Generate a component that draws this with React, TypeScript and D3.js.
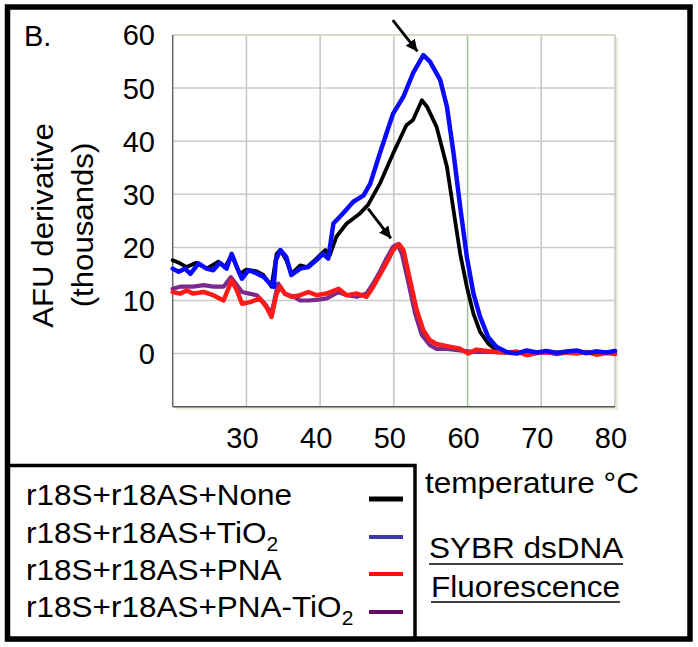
import React from "react";
import * as d3 from "d3";

const X_TICKS = [30, 40, 50, 60, 70, 80];
const Y_TICKS = [0, 10, 20, 30, 40, 50, 60];
const X_GRID = [20, 30, 40, 50, 60, 70, 80];
const Y_GRID = [-10, 0, 10, 20, 30, 40, 50, 60];

const NONE: [number, number][] = [[20,17.6],[21,17.0],[21.9,16.3],[23.2,17.1],[24.6,16.0],[26.2,17.3],[27.1,16.3],[28,18.5],[29.1,15.0],[30,15.8],[31.4,15.5],[32.3,14.8],[33.4,12.6],[34.1,18.8],[34.6,19.5],[35.4,17.6],[36.1,15.0],[37.3,16.6],[38.2,16.3],[39.5,17.9],[40.7,19.5],[41.3,18.5],[42.2,22],[43.6,24.5],[45.4,26.4],[46.5,28],[48.1,32],[49.9,37.7],[51.7,43],[52.6,44],[53.8,47.7],[54.5,46.5],[55.8,42.7],[57.2,35.2],[58.3,25.1],[59,18.8],[59.9,12.6],[60.8,7.5],[61.7,4.1],[62.8,1.9],[63.9,0.6],[65.3,0.3],[66.7,0.1],[68,0.5],[69.4,0.2],[70.7,0.4],[72.1,0.1],[73.4,0.3],[74.8,0.5],[76.1,0.2],[77.5,0.4],[78.9,0.2],[80,0.4]];
const TIO2: [number, number][] = [[20,16],[20.8,15.4],[21.7,16.0],[22.4,15.0],[23.5,17.0],[24.6,16.0],[25.5,15.7],[26.4,17.1],[27.3,16.0],[28,18.8],[28.7,16.3],[29.4,14.1],[30.3,15.7],[31.4,15.1],[32.3,14.5],[33.2,13.2],[33.7,12.6],[34,17.6],[34.6,19.5],[35.4,18.2],[36.1,14.8],[37.3,16.0],[38.4,16.3],[39.5,17.6],[40.4,18.8],[41.1,17.9],[41.8,24.5],[42.9,26.1],[44.5,28.6],[45.9,29.8],[46.8,32],[48.1,37.7],[49,41.5],[49.9,45.2],[51.3,48.4],[52.6,52.8],[54,56.2],[54.9,55],[56.3,51.5],[57.2,46.5],[58.1,37.7],[59,27.6],[59.9,18.2],[60.8,11.3],[61.7,6.9],[62.8,3.1],[63.9,1.3],[65.3,0.3],[66.7,0],[68,0.6],[69.4,0.2],[70.7,0.5],[72.1,0.1],[73.4,0.4],[74.8,0.6],[76.1,0.1],[77.5,0.4],[78.9,0.2],[80,0.5]];
const PNA: [number, number][] = [[20,11.6],[21,11.3],[21.9,11.9],[22.8,11.3],[24.2,11.6],[25.5,11],[26.9,10],[28,13.8],[28.7,11.9],[29.4,9.4],[30.5,9.7],[31.8,10.4],[32.7,8.8],[33.4,6.9],[34.1,11.3],[34.6,12.6],[35.2,11.3],[36.1,10.7],[37.3,11.0],[38.4,11.6],[39.5,11.0],[40.9,11.3],[42.5,12.2],[43.6,11.0],[45,11.3],[46.3,10.7],[47.2,12.6],[48.1,14.8],[49.2,17.6],[49.9,19.5],[50.7,20.6],[51.3,19.5],[52.2,13.8],[53.1,8.2],[54,4.4],[54.9,2.5],[55.8,1.8],[57.2,1.4],[59,0.9],[60.1,0],[61.2,0.75],[62.6,0.5],[63.9,0.3],[65.3,0.2],[66.7,0.4],[68,-0.3],[69.4,0.1],[70.7,0.3],[72.1,-0.1],[73.4,0.2],[74.8,0],[76.1,0.3],[77.5,-0.2],[78.9,0.1],[80,-0.1]];
const PNA_TIO2: [number, number][] = [[20,12.2],[21,12.6],[22.8,12.6],[24.2,12.9],[25.5,12.6],[26.9,12.6],[27.9,14.4],[28.7,12.9],[29.4,11.6],[30.4,11.3],[31.4,11.0],[32.5,9.4],[33.4,7.5],[34.3,13.2],[35.2,11.3],[36.4,10.7],[37.3,10],[38.4,10],[39.5,10.1],[40.9,10.4],[42.5,11.6],[43.6,11],[45,10.7],[46.3,11.3],[47.2,13.2],[48.1,15.4],[49,17.9],[49.9,20.1],[50.5,20.6],[51.1,18.8],[52,13.2],[52.9,7.5],[53.8,3.5],[54.9,1.6],[55.8,0.9],[57.2,0.9],[59,0.6],[60.8,0.3],[63.5,0.3],[66,0.1],[68.5,0.3],[71,0.2],[73.5,0.3],[76,0.1],[78.5,0.3],[80,0.2]];

const SERIES_LABELS = ["r18S+r18AS+None", "r18S+r18AS+TiO", "r18S+r18AS+PNA", "r18S+r18AS+PNA-TiO"];
const SERIES_SUBS = ["", "2", "", "2"];
const LEGEND_COLORS = ["#000000", "#3a3aa8", "#ff1010", "#660a66"];

const ARROWS: { from: [number, number]; to: [number, number] }[] = [
  { from: [49.85, 62.8], to: [53.2, 56.9] },
  { from: [46.5, 27.3], to: [49.6, 21.7] },
];

const FONT = "'Liberation Sans', Arial, Helvetica, sans-serif";

export default function App() {
  const W = 698, H = 647;
  const pl = 172.7, pr = 615, pt = 35, pb = 406.7;
  const x = d3.scaleLinear().domain([20, 80]).range([pl, pr]);
  const y = d3.scaleLinear().domain([-10, 60]).range([pb, pt]);
  const line = d3.line<[number, number]>().x(d => x(d[0])).y(d => y(d[1])).curve(d3.curveLinear);

  const drawOrder = [
    { data: PNA_TIO2, color: "#7a2a8c", w: 4.2 },
    { data: NONE, color: "#000000", w: 3.8 },
    { data: PNA, color: "#ff1a1a", w: 4.5 },
    { data: TIO2, color: "#0a0aff", w: 4.5 },
  ];

  const sx = 1.05;
  const fs = 30;
  const legendBaselines = [505, 543, 580, 617];
  const legendLineY = [499, 537, 574, 612];

  return (
    <svg width={W} height={H} style={{ position: "absolute", left: 0, top: 0, background: "#fff" }} fontFamily={FONT}>
      <defs>
        <marker id="ah" viewBox="0 0 10 10" refX="10" refY="5" markerWidth="4.2" markerHeight="4.2" markerUnits="strokeWidth" orient="auto">
          <path d="M0,0 L10,5 L0,10 Z" fill="#000" />
        </marker>
      </defs>
      <rect x={0} y={0} width={W} height={H} fill="#fff" />
      <rect x={pl + 3} y={pt + 3} width={pr - pl} height={pb - pt} fill="#ebe8dc" />
      <rect x={pl} y={pt} width={pr - pl} height={pb - pt} fill="#fff" />
      {X_GRID.slice(1, -1).map(v => (
        <line key={"gx" + v} x1={x(v)} x2={x(v)} y1={pt} y2={pb} stroke={v === 60 ? "#9cc49c" : "#c4c4c4"} strokeWidth={1.5} />
      ))}
      {Y_GRID.slice(1, -1).map(v => (
        <line key={"gy" + v} x1={pl} x2={pr} y1={y(v)} y2={y(v)} stroke="#cbcbc6" strokeWidth={1.5} />
      ))}
      <line x1={pl} x2={pr} y1={pt} y2={pt} stroke="#dcd8c6" strokeWidth={2} />
      <line x1={pr} x2={pr} y1={pt} y2={pb} stroke="#c8c8c8" strokeWidth={1.5} />
      <line x1={pl} x2={pl} y1={pt} y2={pb} stroke="#666" strokeWidth={1.5} />
      <line x1={pl} x2={pr} y1={pb} y2={pb} stroke="#555" strokeWidth={1.5} />

      {drawOrder.map((s, i) => (
        <path key={i} d={line(s.data) || ""} fill="none" stroke={s.color} strokeWidth={s.w} strokeLinejoin="round" strokeLinecap="round" />
      ))}

      {ARROWS.map((a, i) => (
        <line key={"ar" + i} x1={x(a.from[0])} y1={y(a.from[1])} x2={x(a.to[0])} y2={y(a.to[1])} stroke="#000" strokeWidth={2.8} markerEnd="url(#ah)" />
      ))}

      {Y_TICKS.map(v => (
        <text key={"yt" + v} x={155} y={y(v)} dy="0.36em" textAnchor="end" fontSize={29} fill="#000">{v}</text>
      ))}
      {X_TICKS.map(v => (
        <text key={"xt" + v} x={x(v) - 4} y={448} textAnchor="middle" fontSize={29} fill="#000">{v}</text>
      ))}

      <text x={24} y={46} fontSize={29}>B.</text>

      <text transform={`translate(53,225.5) rotate(-90) scale(1.04,1)`} textAnchor="middle" fontSize={30}>AFU derivative</text>
      <text transform={`translate(92.5,225) rotate(-90) scale(1.04,1)`} textAnchor="middle" fontSize={30}>(thousands)</text>

      <text transform={`translate(425,493) scale(${sx},1)`} fontSize={fs}>temperature °C</text>
      <text transform={`translate(429,558) scale(${sx},1)`} fontSize={fs}>SYBR dsDNA</text>
      <line x1={429} x2={623} y1={564} y2={564} stroke="#000" strokeWidth={1.6} />
      <text transform={`translate(431,597) scale(${sx},1)`} fontSize={fs}>Fluorescence</text>
      <line x1={431} x2={620} y1={602} y2={602} stroke="#000" strokeWidth={1.6} />

      <rect x={7} y={465.5} width={408} height={174} fill="none" stroke="#000" strokeWidth={3.5} />
      {SERIES_LABELS.map((lab, i) => (
        <g key={"lg" + i}>
          <text transform={`translate(26,${legendBaselines[i]}) scale(${sx},1)`} fontSize={fs}>
            {lab}
            {SERIES_SUBS[i] && <tspan fontSize={20} dy={8}>{SERIES_SUBS[i]}</tspan>}
          </text>
          <line x1={369} x2={403} y1={legendLineY[i]} y2={legendLineY[i]} stroke={LEGEND_COLORS[i]} strokeWidth={i === 0 ? 5 : 4} />
        </g>
      ))}

      <rect x={7.5} y={7} width={682.5} height={632} fill="none" stroke="#000" strokeWidth={5.5} />
    </svg>
  );
}
